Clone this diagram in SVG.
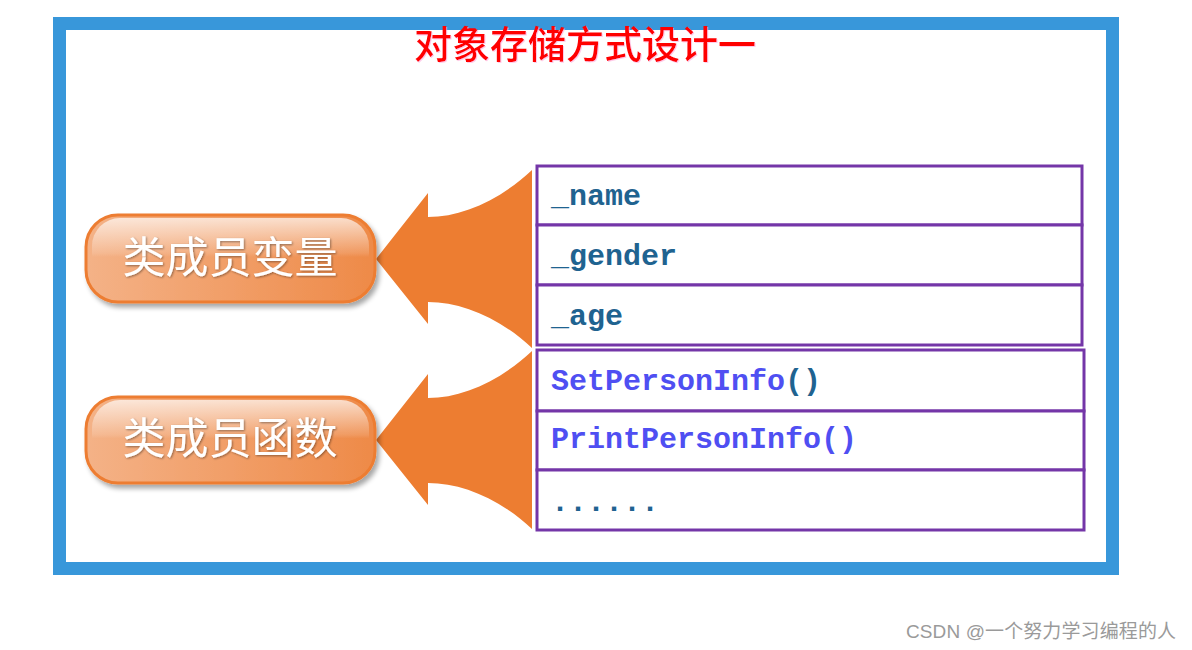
<svg xmlns="http://www.w3.org/2000/svg" width="1192" height="650" viewBox="0 0 1192 650">
  <defs>
    <linearGradient id="pillFill" x1="0" y1="0" x2="1" y2="0">
      <stop offset="0" stop-color="#f4b287"/>
      <stop offset="1" stop-color="#ee8a48"/>
    </linearGradient>
    <linearGradient id="gloss" x1="0" y1="0" x2="0" y2="1">
      <stop offset="0" stop-color="#ffffff" stop-opacity="0.7"/>
      <stop offset="0.45" stop-color="#ffffff" stop-opacity="0.12"/>
      <stop offset="0.5" stop-color="#ffffff" stop-opacity="0"/>
      <stop offset="1" stop-color="#ffffff" stop-opacity="0"/>
    </linearGradient>
    <filter id="pillShadow" x="-10%" y="-20%" width="125%" height="150%">
      <feGaussianBlur in="SourceAlpha" stdDeviation="2.5"/>
      <feOffset dx="3" dy="4" result="b"/>
      <feComponentTransfer><feFuncA type="linear" slope="0.35"/></feComponentTransfer>
      <feMerge><feMergeNode/><feMergeNode in="SourceGraphic"/></feMerge>
    </filter>
    <filter id="txtShadow" x="-5%" y="-20%" width="110%" height="150%">
      <feGaussianBlur in="SourceAlpha" stdDeviation="1"/>
      <feOffset dx="1" dy="1"/>
      <feComponentTransfer><feFuncA type="linear" slope="0.4"/></feComponentTransfer>
      <feMerge><feMergeNode/><feMergeNode in="SourceGraphic"/></feMerge>
    </filter>
    <filter id="titleGlow" x="-5%" y="-20%" width="110%" height="150%">
      <feOffset dx="1" dy="1" in="SourceGraphic" result="o"/>
      <feColorMatrix in="o" type="matrix" values="0 0 0 0 1  0 0 0 0 0.4  0 0 0 0 0.7  0 0 0 0.6 0"/>
      <feMerge><feMergeNode/><feMergeNode in="SourceGraphic"/></feMerge>
    </filter>
  </defs>
  <style>
    .frame { fill: none; stroke: #3897da; stroke-width: 13; }
    .title { font-family: "Noto Sans CJK SC", sans-serif; font-size: 38px; font-weight: 500; fill: #ff0000; text-anchor: middle; }
    .pill { fill: url(#pillFill); stroke: #ed7d31; stroke-width: 3; }
    .gloss { fill: url(#gloss); }
    .pilltxt { font-family: "Noto Sans CJK SC", sans-serif; font-size: 43px; fill: #ffffff; text-anchor: middle; }
    .arrow { fill: #ed7d31; }
    .cell { fill: #ffffff; stroke: #7436a8; stroke-width: 3; }
    .code { font-family: "Liberation Mono", "DejaVu Sans Mono", monospace; font-size: 30px; font-weight: bold; }
    .var { fill: #1f6390; }
    .fn { fill: #4f4ff2; }
    .wm { font-family: "Liberation Sans", "Noto Sans CJK SC", sans-serif; font-size: 19px; fill: #9a9a9a; }
  </style>

  <rect width="1192" height="650" fill="#ffffff"/>
  <rect class="frame" x="59.5" y="23.5" width="1053" height="545"/>
  <text class="title" x="585" y="58" filter="url(#titleGlow)">对象存储方式设计一</text>

  <g id="connectors">
    <path id="arrow-vars" class="arrow" d="M 376 259 L 428 193 L 428 217 C 462 217, 500 200, 532 170 L 532 348 C 500 318, 462 302, 428 302 L 428 324 Z"/>
    <path id="arrow-funcs" class="arrow" transform="translate(0,181)" d="M 376 259 L 428 193 L 428 217 C 462 217, 500 200, 532 170 L 532 348 C 500 318, 462 302, 428 302 L 428 324 Z"/>
  </g>

  <g id="node-vars" filter="url(#pillShadow)">
    <rect class="pill" x="86" y="215" width="289" height="87" rx="32"/>
    <rect class="gloss" x="92" y="218" width="277" height="78" rx="28"/>
    <text class="pilltxt" x="230" y="273" filter="url(#txtShadow)">类成员变量</text>
  </g>

  <g id="node-funcs" filter="url(#pillShadow)">
    <rect class="pill" x="86" y="397" width="289" height="86" rx="32"/>
    <rect class="gloss" x="92" y="400" width="277" height="77" rx="28"/>
    <text class="pilltxt" x="230" y="454" filter="url(#txtShadow)">类成员函数</text>
  </g>

  <g id="node-name">
    <rect class="cell" x="537" y="166" width="545" height="59"/>
    <text class="code var" x="551" y="205">_name</text>
  </g>
  <g id="node-gender">
    <rect class="cell" x="537" y="225" width="545" height="60"/>
    <text class="code var" x="551" y="265">_gender</text>
  </g>
  <g id="node-age">
    <rect class="cell" x="537" y="285" width="545" height="60"/>
    <text class="code var" x="551" y="325">_age</text>
  </g>
  <g id="node-set">
    <rect class="cell" x="537" y="350" width="547" height="61"/>
    <text class="code" x="551" y="390"><tspan class="fn">SetPersonInfo</tspan><tspan class="var">()</tspan></text>
  </g>
  <g id="node-print">
    <rect class="cell" x="537" y="411" width="547" height="59"/>
    <text class="code fn" x="551" y="448">PrintPersonInfo()</text>
  </g>
  <g id="node-more">
    <rect class="cell" x="537" y="470" width="547" height="60"/>
    <text class="code var" x="551" y="511">......</text>
  </g>

  <text class="wm" x="906" y="638" textLength="270" lengthAdjust="spacing">CSDN @一个努力学习编程的人</text>
</svg>
